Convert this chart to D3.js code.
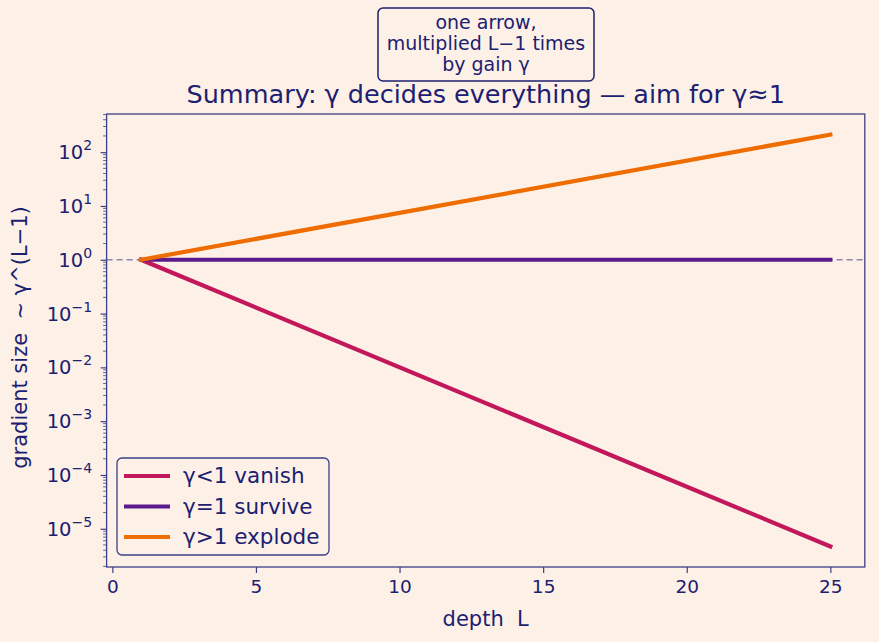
<!DOCTYPE html>
<html>
<head>
<meta charset="utf-8">
<script src="https://cdn.jsdelivr.net/npm/d3@7"></script>
<style>
  body { margin: 0; background: #fdf1e7; }
  svg { font-family: "DejaVu Sans", sans-serif; }
  svg text { white-space: pre; }
</style>
</head>
<body>
<div id="chart-area"></div>
<script>
// Data
var depths = [1, 25];
var vanish = [1, 4.7e-6];
var survive = [1, 1];
var explode = [1, 212];
var seriesNames = ["γ<1 vanish", "γ=1 survive", "γ>1 explode"];
var seriesColors = ["#c2185b", "#5c1a8e", "#ef6c00"];
var xTicks = [0, 5, 10, 15, 20, 25];
var yExps = [-5, -4, -3, -2, -1, 0, 1, 2];

var ink = "#1c2070";
var spine = "#3c3f85";

var W = 879, H = 642;
var margin = { left: 106.6, right: 14.2, top: 114, bottom: 75 };
var width = W - margin.left - margin.right;
var height = H - margin.top - margin.bottom;

var svg = d3.select("#chart-area")
  .append("svg")
    .attr("width", W)
    .attr("height", H);

svg.append("rect").attr("width", W).attr("height", H).attr("fill", "#fdf1e7");

var g = svg.append("g")
  .attr("transform", "translate(" + margin.left + ", " + margin.top + ")");

// Scales (matplotlib-like 5% margins)
var xPad = (depths[1] - depths[0]) * 0.05;
var x = d3.scaleLinear()
  .domain([depths[0] - xPad, depths[1] + xPad])
  .range([0, width]);

var lo = Math.log10(d3.min(vanish)), hi = Math.log10(d3.max(explode));
var lPad = (hi - lo) * 0.05;
var y = d3.scaleLog()
  .domain([Math.pow(10, lo - lPad), Math.pow(10, hi + lPad)])
  .range([height, 0]);

// Reference dashed line at 1
g.append("line")
  .attr("x1", 0).attr("x2", width)
  .attr("y1", y(1)).attr("y2", y(1))
  .attr("stroke", "#8e86a6")
  .attr("stroke-width", 1.5)
  .attr("stroke-dasharray", "6,4");

// Lines
var line = d3.line()
  .x(function (d) { return x(d[0]); })
  .y(function (d) { return y(d[1]); });

[vanish, survive, explode].forEach(function (vals, i) {
  g.append("path")
    .datum(depths.map(function (dd, j) { return [dd, vals[j]]; }))
    .attr("d", line)
    .attr("fill", "none")
    .attr("stroke", seriesColors[i])
    .attr("stroke-width", 4.2)
    .attr("stroke-linecap", "square");
});

// X axis
var xAxisGroup = g.append("g")
  .attr("transform", "translate(0, " + height + ")")
  .call(d3.axisBottom(x).tickValues(xTicks).tickSize(6).tickPadding(7).tickFormat(d3.format("d")));
xAxisGroup.select(".domain").remove();
xAxisGroup.selectAll("line").attr("stroke", spine).attr("stroke-width", 1.2);
xAxisGroup.selectAll("text").attr("fill", ink).attr("font-size", "18.5px").attr("font-family", "DejaVu Sans");

// Y axis: major ticks
var yAxisGroup = g.append("g")
  .call(d3.axisLeft(y).tickValues(yExps.map(function (e) { return Math.pow(10, e); })).tickSize(6).tickFormat(""));
yAxisGroup.select(".domain").remove();
yAxisGroup.selectAll("line").attr("stroke", spine).attr("stroke-width", 1.2);

// minor ticks
var minors = [];
for (var e = -6; e <= 2; e++) {
  for (var m = 2; m <= 9; m++) {
    var v = m * Math.pow(10, e);
    if (v >= y.domain()[0] && v <= y.domain()[1]) minors.push(v);
  }
}
g.append("g").selectAll("line").data(minors).enter().append("line")
  .attr("x1", -3.5).attr("x2", 0)
  .attr("y1", function (d) { return y(d); })
  .attr("y2", function (d) { return y(d); })
  .attr("stroke", spine).attr("stroke-width", 0.8);

// y tick labels with superscripts
yExps.forEach(function (e) {
  var t = g.append("text")
    .attr("x", -14.5)
    .attr("y", y(Math.pow(10, e)) + 7)
    .attr("text-anchor", "end")
    .attr("fill", ink)
    .attr("font-size", "19.5px");
  t.append("tspan").text("10");
  t.append("tspan")
    .attr("dy", -9)
    .attr("font-size", "14px")
    .text(e < 0 ? "\u2212" + (-e) : e);
});

// Frame
g.append("rect")
  .attr("width", width).attr("height", height)
  .attr("fill", "none")
  .attr("stroke", spine)
  .attr("stroke-width", 1.3);

// Axis labels
g.append("text")
  .attr("x", width / 2)
  .attr("y", height + 59)
  .attr("text-anchor", "middle")
  .attr("fill", ink)
  .attr("font-size", "21px")
  .text("depth  L");

g.append("text")
  .attr("transform", "rotate(-90)")
  .attr("x", -height / 2 + 3)
  .attr("y", -80)
  .attr("text-anchor", "middle")
  .attr("fill", ink)
  .attr("font-size", "21px")
  .text("gradient size  ~ γ^(L\u22121)");

// Title
g.append("text")
  .attr("x", width / 2)
  .attr("y", -11)
  .attr("text-anchor", "middle")
  .attr("fill", ink)
  .attr("font-size", "25.5px")
  .text("Summary: γ decides everything — aim for γ≈1");

// Annotation box
var noteLines = ["one arrow,", "multiplied L\u22121 times", "by gain γ"];
var noteG = svg.append("g");
noteG.append("rect")
  .attr("x", 378).attr("y", 8)
  .attr("width", 216).attr("height", 73)
  .attr("rx", 5)
  .attr("fill", "#fdf1e7")
  .attr("stroke", ink)
  .attr("stroke-width", 1.5);
noteLines.forEach(function (s, i) {
  noteG.append("text")
    .attr("x", 486)
    .attr("y", 29 + i * 21)
    .attr("text-anchor", "middle")
    .attr("fill", ink)
    .attr("font-size", "19px")
    .text(s);
});

// Legend
var leg = svg.append("g").attr("transform", "translate(117, 458)");
leg.append("rect")
  .attr("width", 212).attr("height", 97)
  .attr("rx", 5)
  .attr("fill", "#fdf1e7")
  .attr("stroke", spine)
  .attr("stroke-width", 1.3);
seriesNames.forEach(function (name, i) {
  var yy = 18 + i * 30.5;
  leg.append("line")
    .attr("x1", 7).attr("x2", 53)
    .attr("y1", yy).attr("y2", yy)
    .attr("stroke", seriesColors[i])
    .attr("stroke-width", 4.2);
  leg.append("text")
    .attr("x", 66)
    .attr("y", yy + 7)
    .attr("fill", ink)
    .attr("font-size", "21.5px")
    .text(name);
});
</script>
</body>
</html>
